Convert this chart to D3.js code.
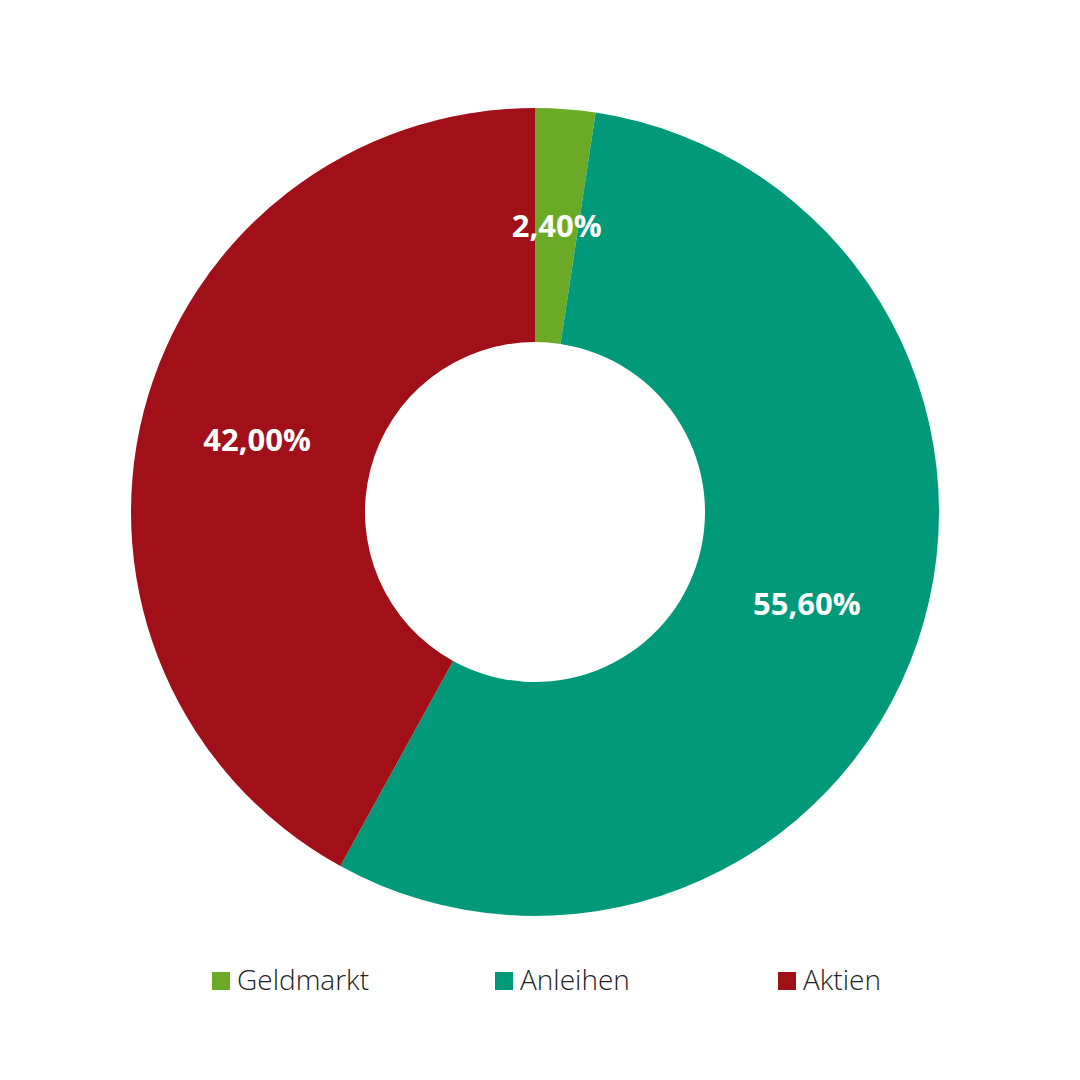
<!DOCTYPE html>
<html><head><meta charset="utf-8">
<script src="https://cdn.jsdelivr.net/npm/d3@7"></script>
<style>body{margin:0;background:#fff}</style></head>
<body><svg id="c" width="1080" height="1080"></svg>
<script>
const categories = ["Geldmarkt","Anleihen","Aktien"];
const values = [2.4, 55.6, 42.0];
const labels = ["2,40%","55,60%","42,00%"];
const colors = ["#6aaa27","#009a7a","#a11019"];

const svg = d3.select("#c");
const cx = 535, cy = 512, R = 404, r = 170;
const pie = d3.pie().sort(null).value(d => d)(values);
const arc = d3.arc().innerRadius(r).outerRadius(R);
const lab = d3.arc().innerRadius(287).outerRadius(287);
const g = svg.append("g").attr("transform", `translate(${cx},${cy})`);
g.selectAll("path").data(pie).join("path").attr("d", arc).attr("fill", (d,i) => colors[i]);
g.selectAll("text").data(pie).join("text")
  .attr("transform", d => `translate(${lab.centroid(d)})`)
  .attr("text-anchor","middle").attr("dy","0.35em")
  .attr("font-family","Open Sans, sans-serif").attr("font-weight","bold")
  .attr("font-size",31).attr("fill","#fff").text((d,i) => labels[i]);

const lx = d3.scalePoint().domain(categories).range([212, 778]);
const lg = svg.append("g").selectAll("g").data(categories).join("g")
  .attr("transform", d => `translate(${lx(d)},972)`);
lg.append("rect").attr("width",18).attr("height",18).attr("fill",(d,i)=>colors[i]);
lg.append("text").attr("x",25).attr("y",18).attr("font-family","Open Sans, sans-serif")
  .attr("font-weight",300).attr("font-size",28).attr("fill","#222").text(d => d);
</script></body></html>
